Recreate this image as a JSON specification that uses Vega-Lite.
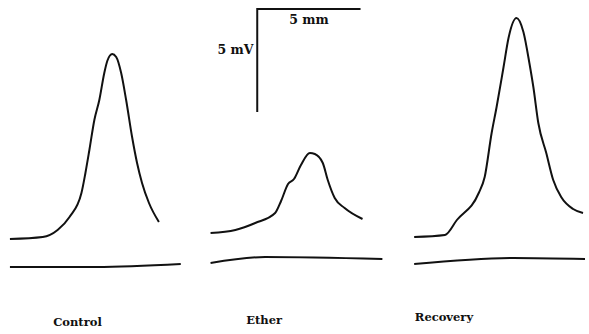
{
  "$schema": "https://vega.github.io/schema/vega-lite/v6.json",
  "width": 589,
  "height": 334,
  "autosize": {"type": "fit", "contains": "padding"},
  "padding": 0,
  "background": "white",
  "config": {"view": {"stroke": null}},
  "datasets": {
    "traces": [
      {"s": "control", "i": 1, "x": 10, "y": 239},
      {"s": "control", "i": 2, "x": 43, "y": 237},
      {"s": "control", "i": 3, "x": 58, "y": 230},
      {"s": "control", "i": 4, "x": 70, "y": 217},
      {"s": "control", "i": 5, "x": 82, "y": 193},
      {"s": "control", "i": 6, "x": 86, "y": 173},
      {"s": "control", "i": 7, "x": 90, "y": 150},
      {"s": "control", "i": 8, "x": 95, "y": 120},
      {"s": "control", "i": 9, "x": 100, "y": 100},
      {"s": "control", "i": 10, "x": 105, "y": 73},
      {"s": "control", "i": 11, "x": 108, "y": 61},
      {"s": "control", "i": 12, "x": 113, "y": 54},
      {"s": "control", "i": 13, "x": 117, "y": 57},
      {"s": "control", "i": 14, "x": 122, "y": 73},
      {"s": "control", "i": 15, "x": 127, "y": 100},
      {"s": "control", "i": 16, "x": 133, "y": 137},
      {"s": "control", "i": 17, "x": 138, "y": 163},
      {"s": "control", "i": 18, "x": 143, "y": 183},
      {"s": "control", "i": 19, "x": 150, "y": 203},
      {"s": "control", "i": 20, "x": 160, "y": 222},
      {"s": "control_base", "i": 1, "x": 10, "y": 267},
      {"s": "control_base", "i": 2, "x": 97, "y": 267},
      {"s": "control_base", "i": 3, "x": 182, "y": 264},
      {"s": "ether", "i": 1, "x": 212, "y": 233},
      {"s": "ether", "i": 2, "x": 237, "y": 230},
      {"s": "ether", "i": 3, "x": 257, "y": 223},
      {"s": "ether", "i": 4, "x": 277, "y": 213},
      {"s": "ether", "i": 5, "x": 283, "y": 201},
      {"s": "ether", "i": 6, "x": 290, "y": 184},
      {"s": "ether", "i": 7, "x": 296, "y": 179},
      {"s": "ether", "i": 8, "x": 303, "y": 165},
      {"s": "ether", "i": 9, "x": 312, "y": 153},
      {"s": "ether", "i": 10, "x": 317, "y": 154},
      {"s": "ether", "i": 11, "x": 325, "y": 163},
      {"s": "ether", "i": 12, "x": 330, "y": 180},
      {"s": "ether", "i": 13, "x": 337, "y": 198},
      {"s": "ether", "i": 14, "x": 347, "y": 208},
      {"s": "ether", "i": 15, "x": 365, "y": 219},
      {"s": "ether_base", "i": 1, "x": 212, "y": 263},
      {"s": "ether_base", "i": 2, "x": 267, "y": 257},
      {"s": "ether_base", "i": 3, "x": 385, "y": 259},
      {"s": "recovery", "i": 1, "x": 417, "y": 237},
      {"s": "recovery", "i": 2, "x": 448, "y": 235},
      {"s": "recovery", "i": 3, "x": 460, "y": 220},
      {"s": "recovery", "i": 4, "x": 482, "y": 193},
      {"s": "recovery", "i": 5, "x": 488, "y": 177},
      {"s": "recovery", "i": 6, "x": 495, "y": 133},
      {"s": "recovery", "i": 7, "x": 500, "y": 107},
      {"s": "recovery", "i": 8, "x": 507, "y": 67},
      {"s": "recovery", "i": 9, "x": 512, "y": 38},
      {"s": "recovery", "i": 10, "x": 520, "y": 18},
      {"s": "recovery", "i": 11, "x": 527, "y": 32},
      {"s": "recovery", "i": 12, "x": 533, "y": 63},
      {"s": "recovery", "i": 13, "x": 537, "y": 87},
      {"s": "recovery", "i": 14, "x": 542, "y": 123},
      {"s": "recovery", "i": 15, "x": 550, "y": 153},
      {"s": "recovery", "i": 16, "x": 557, "y": 180},
      {"s": "recovery", "i": 17, "x": 565, "y": 197},
      {"s": "recovery", "i": 18, "x": 577, "y": 209},
      {"s": "recovery", "i": 19, "x": 587, "y": 213},
      {"s": "recovery_base", "i": 1, "x": 417, "y": 264},
      {"s": "recovery_base", "i": 2, "x": 517, "y": 258},
      {"s": "recovery_base", "i": 3, "x": 589, "y": 259},
      {"s": "scalebar", "i": 1, "x": 259, "y": 112},
      {"s": "scalebar", "i": 2, "x": 259, "y": 9},
      {"s": "scalebar", "i": 3, "x": 363, "y": 9}
    ],
    "labels": [
      {"label": "Control", "x": 78, "y": 323, "g": "cond"},
      {"label": "Ether", "x": 266, "y": 321, "g": "cond"},
      {"label": "Recovery", "x": 447, "y": 318, "g": "cond"},
      {"label": "5 mm", "x": 311, "y": 20, "g": "scale"},
      {"label": "5 mV", "x": 237, "y": 50, "g": "scale"}
    ]
  },
  "layer": [
    {
      "data": {"name": "traces"},
      "mark": {"type": "line", "color": "#111111", "strokeWidth": 2, "interpolate": "monotone"},
      "encoding": {
        "x": {"field": "x", "type": "quantitative", "scale": {"domain": [0, 589], "nice": false, "zero": false}, "axis": null},
        "y": {"field": "y", "type": "quantitative", "scale": {"domain": [334, 0], "nice": false, "zero": false}, "axis": null},
        "detail": {"field": "s", "type": "nominal"},
        "order": {"field": "i", "type": "quantitative"}
      }
    },
    {
      "data": {"name": "labels"},
      "transform": [{"filter": "datum.g === 'cond'"}],
      "mark": {"type": "text", "font": "DejaVu Serif", "fontWeight": "bold", "fontSize": 11.5, "color": "#111111", "align": "center", "baseline": "middle"},
      "encoding": {
        "x": {"field": "x", "type": "quantitative", "scale": {"domain": [0, 589], "nice": false, "zero": false}, "axis": null},
        "y": {"field": "y", "type": "quantitative", "scale": {"domain": [334, 0], "nice": false, "zero": false}, "axis": null},
        "text": {"field": "label", "type": "nominal"}
      }
    },
    {
      "data": {"name": "labels"},
      "transform": [{"filter": "datum.g === 'scale'"}],
      "mark": {"type": "text", "font": "DejaVu Serif", "fontWeight": "bold", "fontSize": 12.5, "color": "#111111", "align": "center", "baseline": "middle"},
      "encoding": {
        "x": {"field": "x", "type": "quantitative", "scale": {"domain": [0, 589], "nice": false, "zero": false}, "axis": null},
        "y": {"field": "y", "type": "quantitative", "scale": {"domain": [334, 0], "nice": false, "zero": false}, "axis": null},
        "text": {"field": "label", "type": "nominal"}
      }
    }
  ]
}
